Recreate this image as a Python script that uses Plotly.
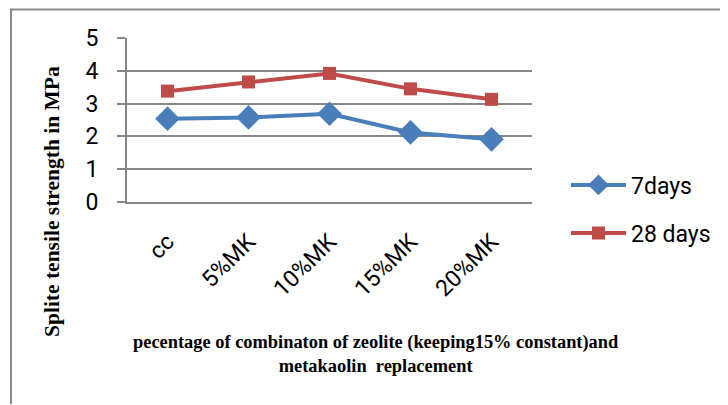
import plotly.graph_objects as go

categories = ["cc", "5%MK", "10%MK", "15%MK", "20%MK"]
days7 = [2.54, 2.58, 2.69, 2.12, 1.91]
days28 = [3.38, 3.66, 3.92, 3.45, 3.13]
y_ticks = [0, 1, 2, 3, 4, 5]

OFF = 8  # page body margin
W, H = 728 - OFF, 405 - OFF
L = 127 - OFF
T = 38 - OFF
R = W - (532 - OFF)
B = H - (202 - OFF)
pw, ph = W - L - R, H - T - B

def px(x):
    return (x - OFF - L) / pw

def py(y):
    return 1 - (y - OFF - T) / ph

sans = "Roboto, Liberation Sans, sans-serif"
serif = "Liberation Serif, Times New Roman, serif"

fig = go.Figure()
fig.add_trace(go.Scatter(
    x=categories, y=days7, name="7days", mode="lines+markers",
    line=dict(color="#4A7EBB", width=4),
    marker=dict(symbol="diamond", size=19, color="#4A7EBB"),
    legend="legend",
))
fig.add_trace(go.Scatter(
    x=categories, y=days28, name="28 days", mode="lines+markers",
    line=dict(color="#BE4B48", width=4),
    marker=dict(symbol="square", size=13, color="#BE4B48"),
    legend="legend2",
))

border = "#8a8a8a"
fig.update_layout(
    width=W, height=H,
    margin=dict(l=L, r=R, t=T, b=B, pad=0),
    plot_bgcolor="white", paper_bgcolor="white",
    showlegend=True,
    legend=dict(x=px(566), y=py(185), xanchor="left", yanchor="middle",
                font=dict(family=sans, size=23, color="black"),
                bgcolor="rgba(0,0,0,0)", itemwidth=55),
    legend2=dict(x=px(566), y=py(233), xanchor="left", yanchor="middle",
                 font=dict(family=sans, size=23, color="black"),
                 bgcolor="rgba(0,0,0,0)", itemwidth=55),
    xaxis=dict(
        type="category", range=[-0.5, 4.5],
        showgrid=False, showline=True, linecolor="#868686", linewidth=2,
        ticks="", tickangle=-45, ticklabelstandoff=15,
        tickfont=dict(family=sans, size=23, color="black"),
        zeroline=False,
    ),
    yaxis=dict(
        range=[0, 5], tickvals=y_ticks,
        showgrid=True, gridcolor="#868686", gridwidth=1.5,
        showline=True, linecolor="#868686", linewidth=2,
        ticks="outside", ticklen=8, tickcolor="#868686", tickwidth=1.5,
        ticklabelstandoff=14,
        tickfont=dict(family=sans, size=23, color="black"),
        zeroline=False,
    ),
    annotations=[
        dict(text="<b>Splite tensile strength in MPa</b>", textangle=-90,
             x=px(52), y=py(202), xref="paper", yref="paper",
             showarrow=False, xanchor="center", yanchor="middle",
             font=dict(family=serif, size=21.5, color="black")),
        dict(text="<b>pecentage of combinaton of zeolite (keeping15% constant)and</b><br><b>metakaolin  replacement</b>",
             x=px(376), y=py(354), xref="paper", yref="paper",
             showarrow=False, xanchor="center", yanchor="middle",
             font=dict(family=serif, size=18.4, color="black")),
    ],
    shapes=[
        dict(type="path", xref="paper", yref="paper",
             path=f"M {px(11)} {py(404)} L {px(11)} {py(9.5)} L {px(727)} {py(9.5)}",
             line=dict(color=border, width=2), layer="above"),
    ],
)

fig.write_html("out.html", config={"displayModeBar": False})
